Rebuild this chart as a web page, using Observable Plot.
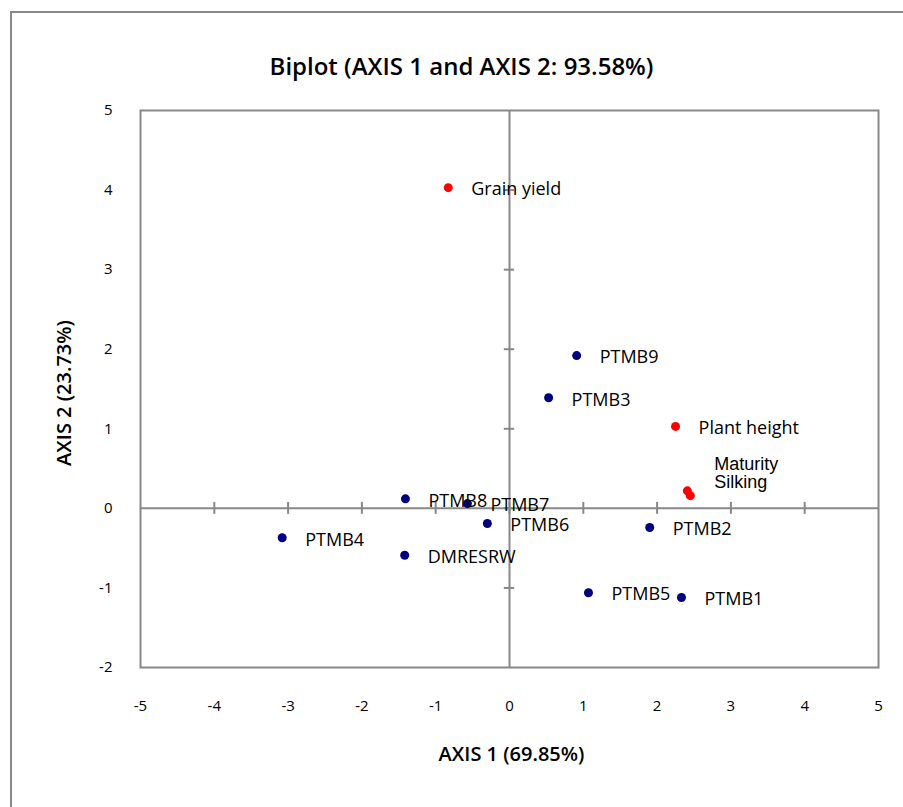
<!DOCTYPE html>
<html><head><meta charset="utf-8">
<script src="https://cdn.jsdelivr.net/npm/d3@7"></script>
<script src="https://cdn.jsdelivr.net/npm/@observablehq/plot@0.6"></script>
<style>
body{margin:0;background:#fff;overflow:hidden;}
#wrap{position:relative;width:903px;height:807px;overflow:hidden;}
#border{position:absolute;left:10px;top:11px;width:960px;height:900px;border:2px solid #888;box-sizing:border-box;}
#chart{position:absolute;left:0;top:0;}
</style></head>
<body>
<div id="wrap"><div id="border"></div><div id="chart"></div></div>
<script>
const title = "Biplot (AXIS 1 and AXIS 2: 93.58%)";
const xLabel = "AXIS 1 (69.85%)";
const yLabel = "AXIS 2 (23.73%)";

// observations (blue)
const obsNames = ["PTMB9","PTMB3","PTMB8","PTMB7","PTMB6","PTMB2","PTMB4","DMRESRW","PTMB5","PTMB1"];
const obsX = [0.91, 0.53, -1.41, -0.57, -0.30, 1.90, -3.08, -1.42, 1.07, 2.33];
const obsY = [1.92, 1.39, 0.12, 0.06, -0.19, -0.24, -0.37, -0.59, -1.06, -1.12];

// variables (red)
const varNames = ["Grain yield","Plant height","Maturity","Silking"];
const varX = [-0.83, 2.25, 2.41, 2.45];
const varY = [4.03, 1.03, 0.22, 0.16];

const xTicks = [-5,-4,-3,-2,-1,0,1,2,3,4,5];
const yTicks = [-2,-1,0,1,2,3,4,5];

const obs = obsNames.map((n,i)=>({name:n,x:obsX[i],y:obsY[i]}));
const vars = varNames.map((n,i)=>({name:n,x:varX[i],y:varY[i]}));
const ptLabelled = vars.filter(d=>d.name==="Grain yield"||d.name==="Plant height");
const maturity = vars.filter(d=>d.name==="Maturity");
const silking = vars.filter(d=>d.name==="Silking");

const font = "'Open Sans', Lato, sans-serif";
const fmt = d => String(d);
const chart = Plot.plot({
  width: 903, height: 807,
  marginTop: 110, marginLeft: 140, marginRight: 25, marginBottom: 140,
  style: {fontFamily: font, fontSize: "15px", background: "transparent", color: "#000"},
  x: {domain: [-5,5]},
  y: {domain: [-2,5]},
  marks: [
    Plot.axisX({ticks: xTicks, tickFormat: fmt, tickSize: 0, tickPadding: 33, label: null, fontSize: 15}),
    Plot.axisY({ticks: yTicks, tickFormat: fmt, tickSize: 0, tickPadding: 28, label: null, fontSize: 15}),
    Plot.ruleX([0], {stroke: "#888", strokeWidth: 2}),
    Plot.ruleY([0], {stroke: "#888", strokeWidth: 2}),
    Plot.ruleX(xTicks.filter(v=>v>-5&&v<5), {x: d=>d, y1: -0.075, y2: 0.075, stroke: "#888", strokeWidth: 2}),
    Plot.ruleY(yTicks.filter(v=>v>-2&&v<5), {y: d=>d, x1: -0.07, x2: 0.07, stroke: "#888", strokeWidth: 2}),
    Plot.frame({stroke: "#888", strokeWidth: 2}),
    Plot.dot(obs, {x:"x", y:"y", r: 4.5, fill: "#000080", stroke: "none"}),
    Plot.dot(vars, {x:"x", y:"y", r: 4.5, fill: "#ff0000", stroke: "none"}),
    Plot.text(obs, {x:"x", y:"y", text:"name", textAnchor:"start", dx: 23, dy: 2, fontSize: 18, fill:"#000"}),
    Plot.text(ptLabelled, {x:"x", y:"y", text:"name", textAnchor:"start", dx: 23, dy: 2, fontSize: 18, fill:"#000"}),
    Plot.text(maturity, {x:"x", y:"y", text:"name", textAnchor:"start", dx: 27, dy: -27, fontSize: 18, fontFamily:"'Liberation Sans', Arial, sans-serif", fill:"#000"}),
    Plot.text(silking, {x:"x", y:"y", text:"name", textAnchor:"start", dx: 24, dy: -13, fontSize: 18, fontFamily:"'Liberation Sans', Arial, sans-serif", fill:"#000"}),
    Plot.text([title], {frameAnchor:"top", textAnchor:"middle", dx: -48, dy: -53, fontSize: 24, fontWeight: 600, fill:"#000"}),
    Plot.text([xLabel], {frameAnchor:"bottom", textAnchor:"middle", dx: 2, dy: 93, fontSize: 20, fontWeight: 600, fill:"#000"}),
    Plot.text([yLabel], {frameAnchor:"left", textAnchor:"middle", dx: -76, dy: 4, rotate: -90, fontSize: 20, fontWeight: 600, fill:"#000"})
  ]
});
document.getElementById("chart").appendChild(chart);
</script>
</body></html>
